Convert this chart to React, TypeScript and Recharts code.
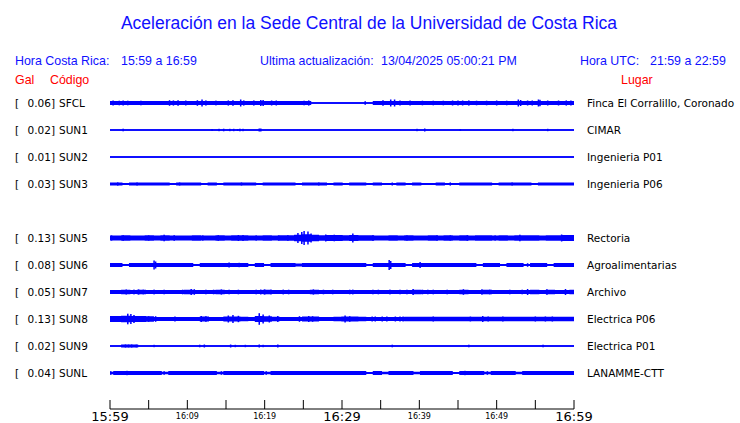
import { ComposedChart, Area, Scatter, XAxis, YAxis } from 'recharts'

// station order, top to bottom (slot 4 stays empty, as on the page)
const codes = ['SFCL', 'SUN1', 'SUN2', 'SUN3', 'SUN5', 'SUN6', 'SUN7', 'SUN8', 'SUN9', 'SUNL']
const peakGal = ['0.06', '0.02', '0.01', '0.03', '0.13', '0.08', '0.05', '0.13', '0.02', '0.04']
const places = [
    'Finca El Corralillo, Coronado',
    'CIMAR',
    'Ingenieria P01',
    'Ingenieria P06',
    'Rectoria',
    'Agroalimentarias',
    'Archivo',
    'Electrica P06',
    'Electrica P01',
    'LANAMME-CTT',
]
const slots = [0, 1, 2, 3, 5, 6, 7, 8, 9, 10]

const tickMinutes = [0, 5, 10, 15, 20, 25, 30, 35, 40, 45, 50, 55, 60]
const labelMinutes = [0, 10, 20, 30, 40, 50, 60]
const labelTexts = ['15:59', '16:09', '16:19', '16:29', '16:39', '16:49', '16:59']

// background band half-width of each trace, one value per minute
const SFCL = [
    1.3, 1.3, 1.3, 1.3, 1.3, 1.3, 1.3, 1.4, 1.4, 1.4,
    1.3, 1.3, 1.3, 1.3, 1.3, 1.3, 1.3, 1.3, 1.3, 1.4,
    1.4, 1.3, 1.3, 1.3, 1.3, 1.3, 0, 0, 0, 0,
    0, 0, 0, 0, 1.3, 1.4, 1.4, 1.3, 1.3, 1.3,
    1.3, 1.3, 1.3, 1.3, 1.3, 1.3, 1.3, 1.3, 1.3, 1.3,
    1.3, 1.3, 1.3, 1.4, 1.3, 1.4, 1.3, 1.3, 1.3, 1.4,
]
const SUN1 = [
    0, 0, 0, 0, 0, 0, 0, 0, 0, 0,
    0, 0, 0, 0, 0, 0, 0, 0, 0, 0,
    0, 0, 0, 0, 0, 0, 0, 0, 0, 0,
    0, 0, 0, 0, 0, 0, 0, 0, 0, 0,
    0, 0, 0, 0, 0, 0, 0, 0, 0, 0,
    0, 0, 0, 0, 0, 0, 0, 0, 0, 0,
]
const SUN2 = [
    0, 0, 0, 0, 0, 0, 0, 0, 0, 0,
    0, 0, 0, 0, 0, 0, 0, 0, 0, 0,
    0, 0, 0, 0, 0, 0, 0, 0, 0, 0,
    0, 0, 0, 0, 0, 0, 0, 0, 0, 0,
    0, 0, 0, 0, 0, 0, 0, 0, 0, 0,
    0, 0, 0, 0, 0, 0, 0, 0, 0, 0,
]
const SUN3 = [
    0.9, 0.9, 0.3, 0.9, 0.9, 0.9, 0.9, 0.9, 0.3, 0.9,
    0.9, 0.9, 0.3, 0.9, 0.3, 0.9, 0.9, 0.9, 0.9, 0.3,
    0.9, 0.9, 0.9, 0.9, 0.3, 0.9, 0.9, 0.9, 0.3, 0.9,
    0.3, 0.9, 0.9, 0.3, 0.9, 0.3, 0.2, 0.9, 0.3, 0.9,
    0.3, 0.3, 0.9, 0.3, 0.3, 0.9, 0.9, 0.9, 0.9, 0.3,
    0.9, 0.9, 0.9, 0.9, 0.3, 0.9, 0.9, 0.9, 0.9, 0.9,
]
const SUN5 = [
    1.9, 1.9, 2, 1.9, 1.9, 2, 1.9, 2.1, 1.9, 1.9,
    1.9, 2, 1.9, 1.9, 2, 1.9, 2.1, 2.1, 1.9, 1.9,
    2, 1.9, 2, 2.1, 2.6, 3, 2.5, 2, 2.2, 2.2,
    2, 2.4, 2, 2, 1.9, 1.9, 2, 1.9, 2, 1.9,
    1.9, 2, 1.9, 2, 1.9, 2, 1.9, 2, 2, 1.9,
    2, 1.9, 2, 2.1, 2, 1.9, 2, 2.1, 2.3, 2.2,
]
const SUN6 = [
    1.2, 1.2, 0.4, 1.2, 1.3, 1.2, 1.3, 1.3, 1.2, 1.2,
    1.2, 0.4, 1.2, 1.2, 1.3, 1.3, 1.2, 1.2, 0.4, 1.2,
    0.4, 1.2, 1.2, 1.2, 0.9, 1.2, 1.2, 1.3, 1.2, 1.3,
    1.2, 1.3, 1.2, 0.4, 1.2, 1.2, 1.3, 1.3, 0.4, 1.2,
    1.2, 1.2, 1.2, 1.2, 1.3, 1.2, 1.2, 0.4, 1.2, 1.2,
    0.4, 1.2, 1.2, 0.4, 1.2, 1.2, 0.4, 1.2, 1.2, 1.2,
]
const SUN7 = [
    1.4, 1.4, 1.5, 1.4, 1.5, 1.4, 1.4, 1.4, 1.4, 1.4,
    1.5, 1.4, 1.4, 1.4, 1.5, 1.4, 1.4, 1.4, 1.4, 1.4,
    1.5, 1.4, 1.4, 1.4, 1.4, 1.4, 1.5, 1.4, 1.4, 1.4,
    1.4, 1.4, 1.4, 1.4, 1.4, 1.4, 1.4, 1.4, 1.4, 1.5,
    1.4, 1.4, 1.4, 1.4, 1.4, 1.5, 1.4, 1.4, 1.5, 1.4,
    1.4, 1.4, 1.4, 1.4, 1.5, 1.4, 1.5, 1.4, 1.4, 1.5,
]
const SUN8 = [
    2.2, 2.4, 2.6, 2.4, 2.2, 2, 1.4, 1.4, 1.4, 1.4,
    1.4, 1.4, 1.9, 1.4, 1.4, 1.8, 1.9, 1.5, 1.4, 2.2,
    2, 1.5, 1.4, 1.4, 1.4, 1.7, 1.7, 1.4, 1.4, 1.5,
    1.8, 1.8, 1.5, 1.4, 1.4, 1.4, 1.4, 1.4, 1.5, 1.5,
    1.5, 1.5, 1.5, 1.5, 1.5, 1.5, 1.5, 1.5, 1.6, 1.5,
    1.5, 1.5, 1.5, 1.5, 1.5, 1.5, 1.5, 1.5, 1.5, 1.5,
]
const SUN9 = [
    0, 0, 0.7, 0.7, 0, 0, 0, 0, 0, 0,
    0, 0, 0, 0, 0, 0, 0, 0, 0, 0,
    0, 0, 0, 0, 0, 0, 0, 0, 0, 0,
    0, 0, 0, 0, 0, 0, 0, 0, 0, 0,
    0, 0, 0, 0, 0, 0, 0, 0, 0, 0,
    0, 0, 0, 0, 0, 0, 0, 0, 0, 0,
]
const SUNL = [
    0.5, 1.2, 1.2, 1.2, 1.2, 1.2, 1.2, 0.5, 1.2, 1.2,
    1.2, 1.2, 1.2, 1.2, 0.5, 1.2, 1.2, 1.2, 1.2, 1.2,
    0.5, 1.2, 1.2, 1.2, 1.2, 1.2, 1.2, 1.2, 1.2, 1.2,
    1.2, 1.2, 1.2, 0.4, 1.2, 0.5, 1.2, 1.2, 1.2, 0.5,
    1.2, 1.2, 1.2, 1.2, 0.4, 1.2, 1.2, 1.2, 0.5, 1.2,
    1.2, 1.2, 0.5, 1.2, 1.2, 1.2, 1.2, 1.2, 1.2, 1.2,
]

// individual peaks: [minute, half-height]
const SFCL_peaks = [
    [0.4, 2.5], [1.2, 2.3], [1.7, 2.5], [2.3, 2.3], [4, 2.3], [7.7, 2.8], [8.2, 2.6],
    [8.8, 2.8], [9.8, 2.5], [11.3, 2.8], [11.9, 3.5], [12.4, 2.6], [13.7, 2.4],
    [15.3, 2.6], [15.9, 2.8], [16.9, 3.5], [17.3, 2.6], [18.6, 2.6], [19.5, 3],
    [19.8, 3], [20.9, 2.5], [21.5, 2.5], [25.1, 2.3], [25.7, 2.6], [33, 1.8],
    [35.3, 2.8], [36.3, 3.5], [36.8, 3.5], [37.5, 2.5], [38.8, 2.5], [40.4, 2.3],
    [41.8, 2.3], [43.1, 2.3], [44.3, 2.5], [45, 2.5], [45.6, 2.5], [46.4, 2.6],
    [47.4, 2.3], [48.7, 2.3], [50, 2.5], [51.3, 2.3], [52.8, 3.5], [53.1, 3],
    [54, 2.5], [54.6, 2.5], [55.4, 3.5], [55.6, 3.2], [56.6, 2.5], [58, 2.5],
    [59, 2.6], [59.6, 2.5],
]
const SUN1_peaks = [
    [1.7, 1.3], [13.2, 1], [14.1, 1.2], [14.7, 1.3], [15.5, 1.2], [16, 1.2], [16.5, 1],
    [16.8, 1.3], [17.2, 1.2], [19.3, 1.5], [19.5, 1.5], [39.7, 1.2], [40.7, 1.5],
    [45.3, 1], [52.1, 1.2], [56.6, 1.2],
]
const SUN2_peaks: number[][] = []
const SUN3_peaks = [
    [1, 1.6], [3.5, 1.5], [9, 1.5], [17, 1.5], [27, 1.5], [36.5, 1.5], [44, 1.6], [52, 1.5],
]
const SUN5_peaks = [
    [0.2, 2.6], [1.7, 2.8], [5, 2.6], [7, 3.3], [8.3, 2.8], [12, 2.6], [14, 2.8],
    [16.6, 3], [17.2, 3], [18.9, 2.6], [21.8, 2.6], [23, 2.8], [24.3, 5], [24.8, 6],
    [25.1, 7], [25.6, 6.5], [26, 4.5], [27.9, 3.5], [28.5, 3], [29, 3.3], [31.4, 4.5],
    [34, 2.8], [38.4, 2.6], [42.3, 2.8], [44, 2.6], [46.2, 2.8], [49.8, 2.6], [53, 3.3],
    [58.4, 3.5], [59.8, 2.8],
]
const SUN6_peaks = [
    [5.7, 4.5], [5.9, 3.5], [10, 1.8], [15.4, 2.5], [16.7, 2.2], [22, 1.8], [31, 1.8],
    [36.1, 5], [36.3, 4], [40.1, 3], [47, 1.8], [54, 1.8],
]
const SUN7_peaks = [
    [2.1, 2.5], [3.1, 2.4], [3.7, 2.6], [4.3, 2.3], [5.7, 2.4], [7, 2.3], [9.4, 2.3],
    [10.5, 3], [10.9, 2.8], [12.4, 2.3], [13.4, 2.3], [14.4, 2.6], [15.4, 2.3],
    [16.6, 2.3], [18.9, 2.3], [19.5, 2.5], [20, 2.6], [20.8, 2.3], [22.4, 2.4],
    [23.1, 2.3], [26.3, 2.6], [27.6, 2.3], [28.8, 2.3], [31, 2.3], [31.4, 2.4],
    [34, 2.3], [34.7, 2.3], [36.2, 2.4], [37.5, 2.3], [38.4, 2.3], [39.2, 3],
    [40.4, 2.3], [41.1, 2.3], [41.8, 2.3], [43.6, 2.3], [45.7, 2.8], [48.1, 2.8],
    [49.1, 2.3], [51.7, 2.3], [53.3, 2.3], [54, 3], [56.5, 2.8], [58.9, 3],
]
const SUN8_peaks = [
    [0.8, 3], [1.8, 3], [2.3, 5.3], [2.7, 5], [3.1, 4], [3.7, 3], [5, 2.8], [5.9, 2.8],
    [8.4, 2.5], [11.8, 3], [12.4, 2.8], [15.3, 3.5], [15.9, 4], [16.6, 3.2],
    [19.3, 5.8], [19.8, 4.5], [20.6, 3.5], [21.7, 3], [24.5, 2.8], [25.7, 3],
    [26.2, 2.8], [30.4, 3.5], [31, 2.8], [33.9, 2.5], [34.3, 2.5], [35.2, 2.5],
    [35.8, 2.5], [36.9, 2.5], [37.5, 2.5], [37.9, 2.5], [41.8, 2.5], [46.6, 2.4],
    [48.2, 3], [48.9, 2.5], [50.8, 2.5], [55, 2.5], [56.3, 2.5], [57.2, 2.5],
]
const SUN9_peaks = [
    [2, 1.5], [2.4, 1.4], [2.8, 1.5], [3.4, 1.3], [5.7, 1.2], [11.6, 1.3], [12.2, 1.5],
    [15.6, 1.5], [16.2, 1.2], [17.5, 1.2], [19.3, 1.5], [19.8, 1.2], [21.7, 1.5],
    [36.5, 1.3], [46.4, 1.3], [56, 1.3],
]
const SUNL_peaks = [
    [0.1, 1.8], [0.8, 1.8], [2.2, 2.2], [5, 1.8], [7, 1.8], [8.5, 1.8], [10.2, 1.8],
    [12.2, 1.8], [14.4, 1.8], [17.6, 1.8], [18.5, 1.8], [20.2, 1.8], [21.3, 2],
    [23, 1.8], [24.8, 1.8], [26, 1.8], [27.6, 1.8], [29.6, 1.8], [31.4, 2], [36.5, 1.8],
    [38.6, 1.8], [40.8, 1.8], [45.9, 2.2], [47, 1.8], [48.8, 1.8], [51.6, 2], [57.2, 2],
]

const traces = [SFCL, SUN1, SUN2, SUN3, SUN5, SUN6, SUN7, SUN8, SUN9, SUNL]
const peaks = [
    SFCL_peaks, SUN1_peaks, SUN2_peaks, SUN3_peaks, SUN5_peaks,
    SUN6_peaks, SUN7_peaks, SUN8_peaks, SUN9_peaks, SUNL_peaks,
]

const ROW_PX = 27
const BLUE = '#0000ff'
const TEXT_BLUE = '#1010ff'
const MONO = '"DejaVu Sans", sans-serif'
const SANS = '"Liberation Sans", Arial, sans-serif'

const chartData = SFCL.map((_, i) => {
    const row: Record<string, number> = { t: (i * 60) / (SFCL.length - 1) }
    codes.forEach((code, k) => {
        row[code] = traces[k][i]
    })
    return row
})

const yDomain = [-13 / ROW_PX, -13 / ROW_PX + 319 / ROW_PX]

function LeftTick({ y, payload }: any) {
    const k = slots.indexOf(payload.value)
    if (k < 0) return null
    return (
        <g fontFamily={MONO} fontSize={10.5} fill="#000">
            <text x={15} y={y + 4}>[</text>
            <text x={55} y={y + 4} textAnchor="end">
                {peakGal[k]}]
            </text>
            <text x={59} y={y + 4}>{codes[k]}</text>
        </g>
    )
}

function RightTick({ x, y, payload }: any) {
    const k = slots.indexOf(payload.value)
    if (k < 0) return null
    return (
        <text x={x + 13} y={y + 4} fontFamily={MONO} fontSize={10.5} fill="#000">
            {places[k]}
        </text>
    )
}

function TimeTick({ x, y, payload }: any) {
    const li = labelMinutes.indexOf(payload.value)
    const big = payload.value % 30 === 0
    return (
        <g>
            <line x1={x} x2={x} y1={y - 9} y2={y} stroke="#000" strokeWidth={1} />
            {li >= 0 && (
                <text
                    x={x}
                    y={big ? y + 12 : y + 10}
                    textAnchor="middle"
                    fontFamily={MONO}
                    fontSize={big ? 13 : 8}
                    fill="#000"
                >
                    {labelTexts[li]}
                </text>
            )}
        </g>
    )
}

function PeakMark({ cx, cy, payload }: any) {
    const h = payload.a
    return <rect x={cx - 0.75} y={cy - h} width={1.5} height={h * 2} fill={BLUE} />
}

export default function App() {
    return (
        <div
            style={{
                position: 'absolute',
                left: 0,
                top: 0,
                width: 740,
                height: 423,
                background: '#fff',
            }}
        >
            <svg
                width={740}
                height={90}
                style={{ position: 'absolute', left: 0, top: 0 }}
            >
                <text
                    x={369}
                    y={29}
                    textAnchor="middle"
                    fontFamily={SANS}
                    fontSize={17.5}
                    fill={TEXT_BLUE}
                >
                    Aceleración en la Sede Central de la Universidad de Costa Rica
                </text>
                <g fontFamily={SANS} fontSize={12.4} fill={TEXT_BLUE}>
                    <text x={15} y={65}>Hora Costa Rica:</text>
                    <text x={121} y={65}>15:59 a 16:59</text>
                    <text x={260} y={65}>Ultima actualización:</text>
                    <text x={381} y={65}>13/04/2025 05:00:21 PM</text>
                    <text x={580} y={65}>Hora UTC:</text>
                    <text x={650} y={65}>21:59 a 22:59</text>
                </g>
                <g fontFamily={SANS} fontSize={12.4} fill="#ff0000">
                    <text x={15} y={84}>Gal</text>
                    <text x={50} y={84}>Código</text>
                    <text x={621} y={84}>Lugar</text>
                </g>
            </svg>
            <div style={{ position: 'absolute', left: 0, top: 0 }}>
                <ComposedChart
                    width={740}
                    height={423}
                    data={chartData}
                    margin={{ top: 90, right: 0, bottom: 0, left: 0 }}
                >
                    <XAxis
                        dataKey="t"
                        type="number"
                        domain={[0, 60]}
                        ticks={tickMinutes}
                        height={14}
                        tickSize={0}
                        tickMargin={0}
                        tickLine={false}
                        axisLine={{ stroke: '#000', strokeWidth: 1 }}
                        tick={TimeTick}
                        interval={0}
                    />
                    <YAxis
                        yAxisId="left"
                        type="number"
                        domain={yDomain}
                        reversed
                        allowDataOverflow
                        ticks={slots}
                        width={110}
                        tickSize={0}
                        tickMargin={0}
                        tickLine={false}
                        axisLine={false}
                        tick={LeftTick}
                        interval={0}
                    />
                    <YAxis
                        yAxisId="right"
                        orientation="right"
                        type="number"
                        domain={yDomain}
                        reversed
                        allowDataOverflow
                        ticks={slots}
                        width={166}
                        tickSize={0}
                        tickMargin={0}
                        tickLine={false}
                        axisLine={false}
                        tick={RightTick}
                        interval={0}
                    />
                    {codes.map((code, k) => (
                        <Area
                            key={code}
                            yAxisId="left"
                            type="step"
                            dataKey={(d: any) => [
                                slots[k] - d[code] / ROW_PX,
                                slots[k] + d[code] / ROW_PX,
                            ]}
                            stroke={BLUE}
                            strokeWidth={1.4}
                            fill={BLUE}
                            fillOpacity={1}
                            dot={false}
                            activeDot={false}
                            isAnimationActive={false}
                        />
                    ))}
                    {codes.map((code, k) => (
                        <Scatter
                            key={code + '-peaks'}
                            yAxisId="left"
                            data={peaks[k].map(([t, a]) => ({ t, y: slots[k], a }))}
                            dataKey="y"
                            shape={PeakMark}
                            isAnimationActive={false}
                        />
                    ))}
                </ComposedChart>
            </div>
        </div>
    )
}
